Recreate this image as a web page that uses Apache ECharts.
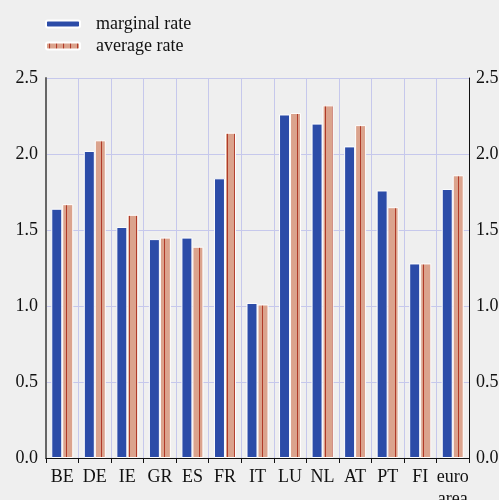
<!DOCTYPE html>
<html>
<head>
<meta charset="utf-8">
<script src="https://cdn.jsdelivr.net/npm/echarts@6/dist/echarts.min.js"></script>
<style>
  html, body { margin: 0; padding: 0; background: #efefef; }
  #Chart { width: 499px; height: 500px; }
</style>
</head>
<body>
<div id="Chart"></div>
<script>
// data
var categories = ['BE', 'DE', 'IE', 'GR', 'ES', 'FR', 'IT', 'LU', 'NL', 'AT', 'PT', 'FI', 'euro\narea'];
var marginalRate = [1.64, 2.02, 1.52, 1.44, 1.45, 1.84, 1.02, 2.26, 2.20, 2.05, 1.76, 1.28, 1.77];
var averageRate = [1.67, 2.09, 1.60, 1.45, 1.39, 2.14, 1.01, 2.27, 2.32, 2.19, 1.65, 1.28, 1.86];
var seriesNames = ['marginal rate', 'average rate'];

var serif = "'Liberation Serif', 'Times New Roman', serif";

// striped fill for the average rate bars
var stripe = document.createElement('canvas');
stripe.width = 7;
stripe.height = 4;
var ctx = stripe.getContext('2d');
ctx.fillStyle = '#dba38d';
ctx.fillRect(0, 0, 7, 4);
ctx.fillStyle = '#b03a28';
ctx.fillRect(3, 0, 1, 4);

var myChart = echarts.init(document.getElementById('Chart'));
var option = {
    backgroundColor: '#efefef',
    animation: false,
    legend: {
        orient: 'vertical',
        left: 40,
        top: 10,
        itemWidth: 34,
        itemHeight: 7,
        itemGap: 4,
        textStyle: { fontFamily: serif, fontSize: 18, color: '#111', padding: [0, 0, 0, 11] },
        data: seriesNames
    },
    grid: { left: 46, right: 30, top: 78, bottom: 42, containLabel: false, outerBoundsMode: 'none' },
    xAxis: {
        type: 'category',
        data: categories,
        boundaryGap: true,
        axisLine: { lineStyle: { color: '#111', width: 1 } },
        axisTick: { show: true, length: 5, lineStyle: { color: '#111' } },
        axisLabel: { fontFamily: serif, fontSize: 18, color: '#111', margin: 8, lineHeight: 22, interval: 0 },
        splitLine: { show: true, lineStyle: { color: '#c6c8ec', width: 1 } }
    },
    yAxis: [
        {
            type: 'value',
            min: 0, max: 2.5, interval: 0.5,
            position: 'left',
            axisLine: { show: true, lineStyle: { color: '#666', width: 2 } },
            axisTick: { show: false },
            axisLabel: { fontFamily: serif, fontSize: 18, color: '#111', margin: 8,
                formatter: function (v) { return v.toFixed(1); } },
            splitLine: { show: true, lineStyle: { color: '#c6c8ec', width: 1 } }
        },
        {
            type: 'value',
            min: 0, max: 2.5, interval: 0.5,
            position: 'right',
            axisLine: { show: true, lineStyle: { color: '#111', width: 1 } },
            axisTick: { show: false },
            axisLabel: { fontFamily: serif, fontSize: 18, color: '#111', margin: 7,
                formatter: function (v) { return v.toFixed(1); } },
            splitLine: { show: false }
        }
    ],
    series: [
        {
            name: seriesNames[0],
            type: 'bar',
            data: marginalRate,
            barWidth: 11,
            barGap: '0%',
            itemStyle: { color: '#2c4ca8', borderColor: '#ffffff', borderWidth: 1 }
        },
        {
            name: seriesNames[1],
            type: 'bar',
            data: averageRate,
            barWidth: 11,
            itemStyle: { color: { image: stripe, repeat: 'repeat' }, borderColor: '#ffffff', borderWidth: 1 }
        }
    ]
};
myChart.setOption(option);
</script>
</body>
</html>
